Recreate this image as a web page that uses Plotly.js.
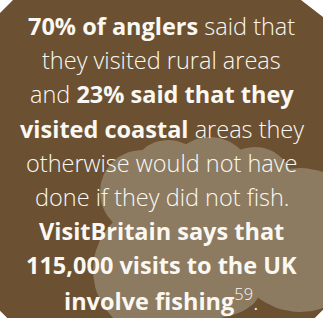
<!DOCTYPE html>
<html>
<head>
<meta charset="utf-8">
<script src="https://cdn.plot.ly/plotly-3.0.1.min.js"></script>
<style>html,body{margin:0;padding:0;background:#fff;}#chart{width:323px;height:318px;}</style>
</head>
<body>
<div id="chart"></div>
<script>
// Text lines of the infographic panel
const textLines = [
  "<b>70% of anglers</b> said that",
  "they visited rural areas",
  "and <b>23% said that they</b>",
  "<b>visited coastal</b> areas they",
  "otherwise would not have",
  "done if they did not fish.",
  "<b>VisitBritain says that</b>",
  "<b>115,000 visits to the UK</b>",
  "<b>involve fishing</b><sup>59</sup>."
];
const panelColor = "#6b5132";
const cloudColor = "#8c7b60";
const textColor = "#fbf8f3";

const W = 323, H = 318;
const lineStep = 34.2, firstCenter = 26;

// decorative cloud lobes: centre x, centre y, radius x, radius y (pixels)
const lobeCx = [142, 160, 168, 210, 255, 300, 215, 200];
const lobeCy = [192, 270, 178, 180, 185, 240, 235, 290];
const lobeRx = [42, 67, 38, 43, 38, 70, 70, 60];
const lobeRy = [42, 67, 38, 43, 38, 72, 70, 30];

const traces = lobeCx.map((cx, i) => {
  const xs = [], ys = [];
  for (let a = 0; a <= 72; a++) {
    const t = a / 72 * 2 * Math.PI;
    xs.push(cx + lobeRx[i] * Math.cos(t));
    ys.push(lobeCy[i] + lobeRy[i] * Math.sin(t));
  }
  return {type:"scatter", mode:"lines", x:xs, y:ys, fill:"toself",
    fillcolor:cloudColor, line:{width:0, color:cloudColor},
    hoverinfo:"skip", showlegend:false};
});

const shapes = [
  {type:"path", xref:"x", yref:"y", layer:"below",
   path:"M13,0 L301,0 L323,17 L323,310 L315,318 L7,318 L0,311 L0,13 Z",
   fillcolor:panelColor, line:{width:0}},
  {type:"path", xref:"x", yref:"y", layer:"above",
   path:"M315,318 L323,310 L330,325 Z", fillcolor:"#ffffff", line:{width:0}},
  {type:"path", xref:"x", yref:"y", layer:"above",
   path:"M7,318 L0,311 L-5,325 Z", fillcolor:"#ffffff", line:{width:0}}
];

const annotations = textLines.map((t,i) => ({
  x: W/2, y: firstCenter + i*lineStep, xref:"x", yref:"y",
  text: t, showarrow:false, xanchor:"center", yanchor:"middle",
  font:{family:"'Open Sans', sans-serif", size:23.5, color:textColor, weight:300}
}));

Plotly.newPlot("chart", traces, {
  width:W, height:H, margin:{l:0,r:0,t:0,b:0},
  paper_bgcolor:"#ffffff", plot_bgcolor:"rgba(0,0,0,0)",
  xaxis:{range:[0,W], visible:false, autorange:false},
  yaxis:{range:[H,0], visible:false, autorange:false},
  shapes:shapes, annotations:annotations, showlegend:false
}, {displayModeBar:false, staticPlot:true});
</script>
</body>
</html>
